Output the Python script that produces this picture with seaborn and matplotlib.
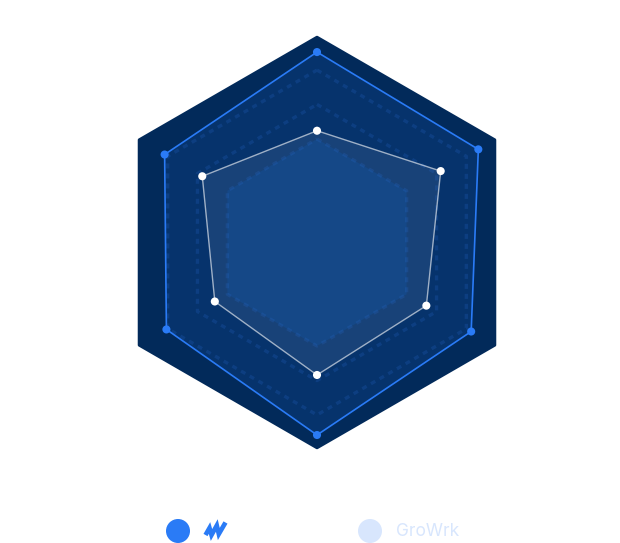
import numpy as np
import pandas as pd
import matplotlib
matplotlib.use('Agg')
import matplotlib.pyplot as plt
import seaborn as sns

# Radar data (clockwise from the top axis), scale 0-100
axes_names = ['A1', 'A2', 'A3', 'A4', 'A5', 'A6']
series_brand = [92, 90, 86, 93, 84, 85]
series_growrk = [54, 69, 61, 64, 57, 64]
legend_labels = ['', 'GroWrk']
split_levels = [50, 66.7, 83.3]
r_max = 100

sns.set_theme(style='white')
plt.rcParams['font.family'] = ['Inter', 'DejaVu Sans']

W, H = 620, 543
fig = plt.figure(figsize=(W / 100, H / 100), dpi=100)

# polar axes placed so the hexagon sits where it does in the reference
cx, cy, rad = 317, 242.5, 207
ax = fig.add_axes([(cx - rad) / W, (H - cy - rad) / H, 2 * rad / W, 2 * rad / H],
                  projection='polar')
ax.set_theta_offset(np.pi / 2)
ax.set_theta_direction(-1)

n = len(axes_names)
theta = np.linspace(0, 2 * np.pi, n, endpoint=False)
theta_c = np.append(theta, theta[0])


def close(vals):
    return np.append(vals, vals[0])


# background hexagon
ax.fill(theta_c, [r_max] * (n + 1), color='#022a5a', zorder=1, lw=0)

# series fills, then the lighter inner area
ax.fill(theta_c, close(series_brand), color='#2a7bf6', alpha=0.12, zorder=2, lw=0)
ax.fill(theta_c, close(series_growrk), color='#d6e4fc', alpha=0.09, zorder=3, lw=0)
ax.fill(theta_c, [split_levels[0]] * (n + 1), color='#154887', zorder=4, lw=0)

# dashed split lines
for lv in split_levels:
    ax.plot(theta_c, [lv] * (n + 1), color='#2a6fd6', alpha=0.2, lw=2.4,
            dashes=(1.5, 1.5), zorder=5)

# series lines
ax.plot(theta_c, close(series_brand), color='#2a7bf6', lw=1.2, zorder=6)
ax.plot(theta_c, close(series_growrk), color='white', alpha=0.6, lw=1.0, zorder=6)

pts = pd.DataFrame({
    'theta': np.concatenate([theta, theta]),
    'r': series_brand + series_growrk,
    'series': ['brand'] * n + ['GroWrk'] * n,
})
sns.scatterplot(data=pts, x='theta', y='r', hue='series',
                palette={'brand': '#2a7bf6', 'GroWrk': 'white'},
                s=34, linewidth=0, legend=False, ax=ax, zorder=7)
ax.set_ylim(0, r_max)
ax.set_axis_off()

# legend at the bottom (pixel coordinates)
lg = fig.add_axes([0, 0, 1, 1])
lg.set_xlim(0, W)
lg.set_ylim(H, 0)
lg.set_axis_off()
lg.add_patch(plt.Circle((178, 531), 12, color='#2a7bf6', lw=0))
lg.plot([205.5, 209.5, 211.5, 216.8, 218.8, 225.5],
        [535, 528, 535, 525.5, 534, 522.5],
        color='#2a7bf6', lw=3.3, solid_capstyle='butt', solid_joinstyle='miter')
lg.add_patch(plt.Circle((370, 531), 12, color='#d8e6fd', lw=0))
lg.text(396, 532, legend_labels[1], color='#d8e6fd', fontsize=12.5,
        va='center', ha='left')

fig.savefig('out.png', dpi=100, facecolor='white')
